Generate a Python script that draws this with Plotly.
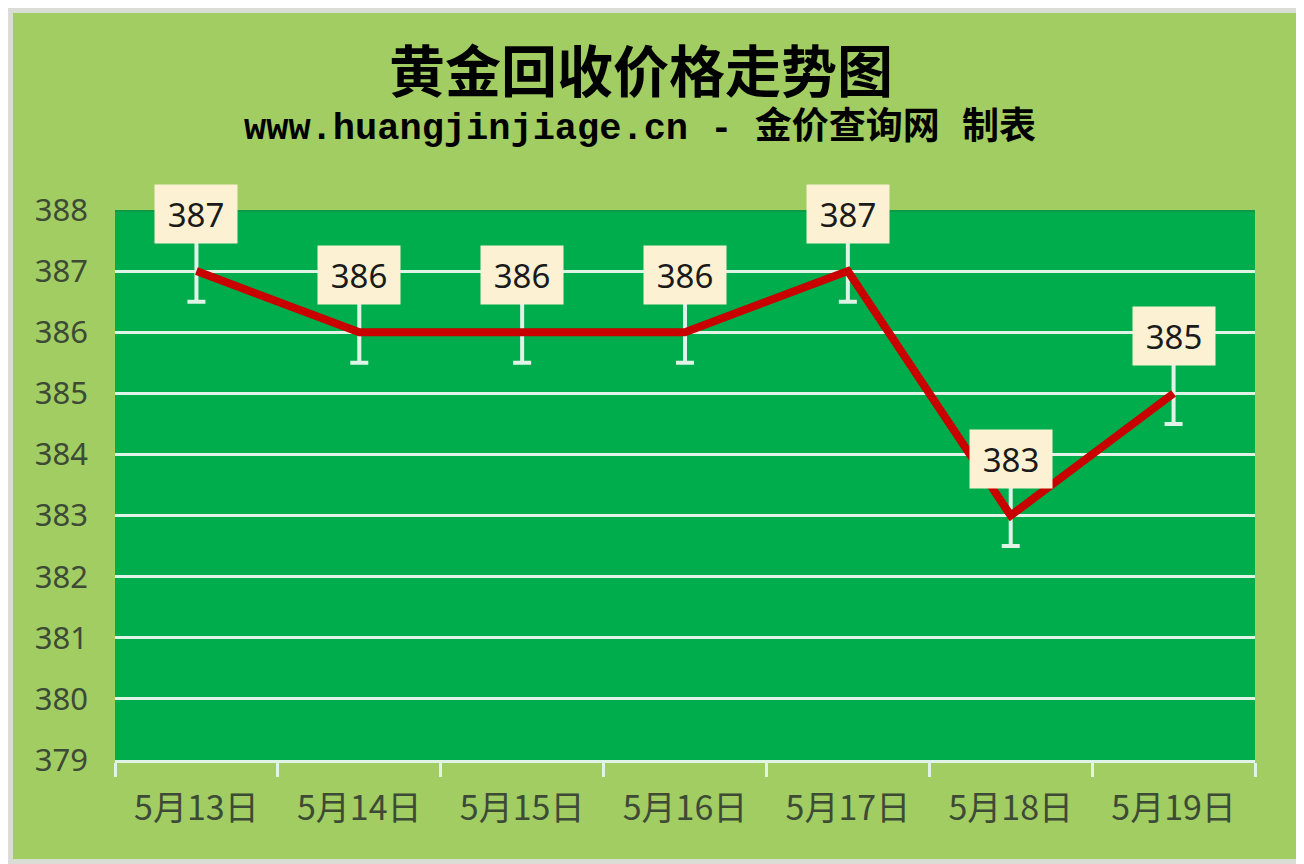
import plotly.graph_objects as go

# data
dates = ["5月13日", "5月14日", "5月15日", "5月16日", "5月17日", "5月18日", "5月19日"]
prices = [387, 386, 386, 386, 387, 383, 385]
err = [0.5, 0.5, 0.5, 0.5, 0.5, 0.5, 0.5]
y_ticks = [379, 380, 381, 382, 383, 384, 385, 386, 387, 388]

PAGE = "#a1cd62"
PLOT = "#00ad4c"
GRID = "#dff3e6"
RED = "#c80000"
TXT = "#3d4a35"

# page offset by the 8px body margin, so the figure is a bit smaller
W, H = 1296, 856
ML, MR, MT, MB = 107, 49, 202, 104
PW, PH = W - ML - MR, H - MT - MB

fig = go.Figure()

# error bars (drawn first so the red line sits on top)
fig.add_trace(go.Scatter(
    x=dates, y=prices, mode="markers",
    marker=dict(size=1, opacity=0),
    error_y=dict(type="data", array=err, color=GRID, thickness=4, width=9),
    hoverinfo="skip", showlegend=False,
))

fig.add_trace(go.Scatter(
    x=dates, y=prices, mode="lines",
    line=dict(color=RED, width=8),
    showlegend=False,
))

# value labels
for d, p in zip(dates, prices):
    fig.add_annotation(
        x=d, y=p, text=str(p), showarrow=False, yshift=57,
        font=dict(family="Noto Sans", size=33, color="#1a1a1a"),
        bgcolor="#fcf2d3", borderpad=7, width=68, height=44,
    )

# titles
fig.add_annotation(
    xref="paper", yref="paper", x=(641 - 115) / PW, y=1 + 143 / PH,
    text="<b>黄金回收价格走势图</b>", showarrow=False,
    xanchor="center", yanchor="middle",
    font=dict(family="Noto Sans CJK SC", size=56, color="#000000"),
)
fig.add_annotation(
    xref="paper", yref="paper", x=(640 - 115) / PW, y=1 + 82 / PH,
    text="<b>www.huangjinjiage.cn - 金价查询网 制表</b>", showarrow=False,
    xanchor="center", yanchor="middle",
    font=dict(family="Liberation Mono, Noto Sans CJK SC", size=37, color="#000000"),
)

# darker top edge of the plot area
fig.add_shape(type="line", xref="paper", yref="y", x0=0, x1=1, y0=388, y1=388,
              line=dict(color="#0c9a44", width=4), layer="above")

# outer frame
fig.add_shape(type="rect", xref="paper", yref="paper",
              x0=-ML / PW, x1=1 + MR / PW, y0=-MB / PH, y1=1 + MT / PH,
              line=dict(color="#d9ddd5", width=10), layer="below")

fig.update_layout(
    width=W, height=H,
    paper_bgcolor=PAGE, plot_bgcolor=PLOT,
    margin=dict(l=ML, r=MR, t=MT, b=MB),
    xaxis=dict(
        type="category", range=[-0.5, 6.5],
        showgrid=False, showline=True, linecolor=GRID, linewidth=3,
        ticks="outside", tickson="boundaries", ticklen=14, tickwidth=3, tickcolor=GRID,
        tickfont=dict(family="Noto Sans CJK SC", size=34, color=TXT),
        ticklabelstandoff=16,
    ),
    yaxis=dict(
        range=[379, 388], tickvals=y_ticks,
        showgrid=True, gridcolor=GRID, gridwidth=3,
        zeroline=False, showline=False,
        tickfont=dict(family="Noto Sans", size=31, color=TXT),
        ticklabelstandoff=26,
    ),
)

fig.write_html("out.html")
